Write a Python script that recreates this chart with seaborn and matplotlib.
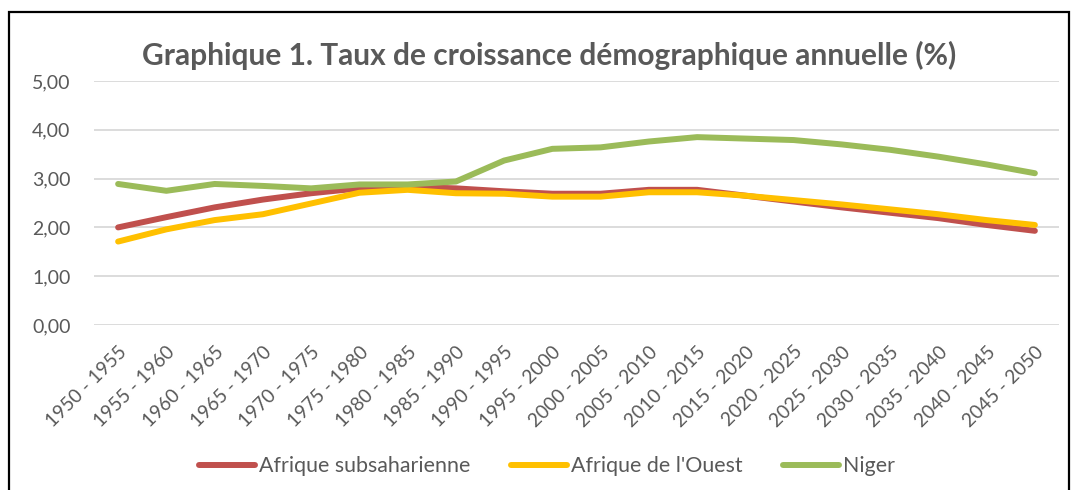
import pandas as pd
import matplotlib.pyplot as plt
import seaborn as sns
from matplotlib.patches import Rectangle
from matplotlib.ticker import FuncFormatter

# Périodes quinquennales
periodes = ["1950 - 1955", "1955 - 1960", "1960 - 1965", "1965 - 1970", "1970 - 1975",
            "1975 - 1980", "1980 - 1985", "1985 - 1990", "1990 - 1995", "1995 - 2000",
            "2000 - 2005", "2005 - 2010", "2010 - 2015", "2015 - 2020", "2020 - 2025",
            "2025 - 2030", "2030 - 2035", "2035 - 2040", "2040 - 2045", "2045 - 2050"]

# Taux de croissance (%)
afrique_subsaharienne = [2.00, 2.21, 2.41, 2.57, 2.70, 2.80, 2.83, 2.80, 2.74, 2.69,
                         2.69, 2.77, 2.77, 2.65, 2.53, 2.41, 2.30, 2.19, 2.05, 1.93]
afrique_ouest = [1.71, 1.96, 2.15, 2.27, 2.49, 2.71, 2.77, 2.70, 2.69, 2.63,
                 2.63, 2.72, 2.72, 2.65, 2.56, 2.47, 2.37, 2.27, 2.15, 2.05]
niger = [2.89, 2.75, 2.89, 2.85, 2.80, 2.88, 2.88, 2.94, 3.37, 3.61,
         3.64, 3.76, 3.85, 3.82, 3.79, 3.70, 3.59, 3.45, 3.29, 3.11]

series = ["Afrique subsaharienne", "Afrique de l'Ouest", "Niger"]
couleurs = ["#C0504D", "#FFC000", "#9BBB59"]

df = pd.DataFrame({
    "Période": periodes * 3,
    "Taux": afrique_subsaharienne + afrique_ouest + niger,
    "Zone": [s for s in series for _ in periodes],
})

sns.set_style("white")
plt.rcParams["font.family"] = ["Lato", "DejaVu Sans"]
gris = "#595959"

fig = plt.figure(figsize=(10.75, 4.9), dpi=100)
ax = fig.add_axes([94 / 1075, 1 - 325 / 490, (1059 - 94) / 1075, (325 - 81) / 490])

sns.lineplot(data=df, x="Période", y="Taux", hue="Zone", hue_order=series,
             palette=couleurs, linewidth=4.3, ax=ax, sort=False,
             solid_capstyle="round", legend=False)

ax.set_xlim(-0.5, len(periodes) - 0.5)
ax.set_ylim(0, 5)
ax.set_yticks([0, 1, 2, 3, 4, 5])
ax.yaxis.set_major_formatter(FuncFormatter(lambda v, p: f"{v:.2f}".replace(".", ",")))
ax.grid(axis="y", color="#D9D9D9", linewidth=1.3)
ax.set_axisbelow(True)
for s in ax.spines.values():
    s.set_visible(False)
ax.set_xlabel("")
ax.set_ylabel("")
ax.tick_params(axis="both", length=0, colors=gris)
ax.tick_params(axis="y", pad=17, labelsize=14)
ax.tick_params(axis="x", pad=13, labelsize=13.8)
plt.setp(ax.get_xticklabels(), rotation=45, ha="right", rotation_mode="anchor")

fig.text(549 / 1075, 1 - 55 / 490, "Graphique 1. Taux de croissance démographique annuelle (%)",
         ha="center", va="center", fontsize=21.5, fontweight="bold", color=gris)

handles = [plt.Line2D([], [], color=c, linewidth=4.3, solid_capstyle="round") for c in couleurs]
fig.legend(handles, series, loc="center", bbox_to_anchor=(547 / 1075, 1 - 466 / 490),
           ncol=3, frameon=False, fontsize=15.4, labelcolor=gris, handlelength=2.6,
           handletextpad=0.2, columnspacing=1.9)

fig.patches.append(Rectangle((9 / 1075, -0.05), (1069 - 9) / 1075, 1.05 - 12 / 490,
                             transform=fig.transFigure, fill=False, edgecolor="black",
                             linewidth=1.6))

fig.savefig("out.png", dpi=100)
